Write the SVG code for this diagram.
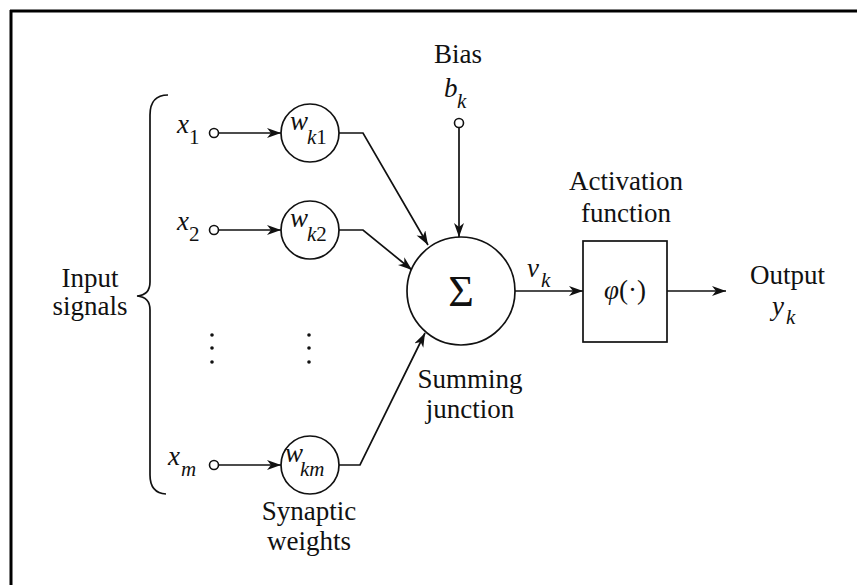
<svg xmlns="http://www.w3.org/2000/svg" width="857" height="585" viewBox="0 0 857 585">
<defs>
<marker id="arr" markerUnits="userSpaceOnUse" markerWidth="16" markerHeight="12" refX="14" refY="5" orient="auto">
<path d="M0,0 L14,5 L0,10 L4,5 z" fill="#111"/>
</marker>
<style>
.t{font-family:"Liberation Serif","Times New Roman",serif;font-size:27px;fill:#111}
.i{font-style:italic}
.s{font-family:"Liberation Serif","Times New Roman",serif;font-size:21px;fill:#111}
.ln{fill:none;stroke:#111;stroke-width:1.7}
.nd{fill:#fff;stroke:#111;stroke-width:1.7}
.pt{fill:#fff;stroke:#111;stroke-width:1.6}
</style>
</defs>
<rect width="857" height="585" fill="#fff"/>
<g id="frame">
<line x1="10" y1="11" x2="857" y2="11" stroke="#000" stroke-width="3"/>
<line x1="11" y1="10" x2="11" y2="585" stroke="#000" stroke-width="3"/>
</g>
<g id="connectors">
<line class="ln" x1="218.5" y1="133" x2="281" y2="133" marker-end="url(#arr)"/>
<line class="ln" x1="218.5" y1="230" x2="281" y2="230" marker-end="url(#arr)"/>
<line class="ln" x1="218.5" y1="465" x2="281" y2="465" marker-end="url(#arr)"/>
<polyline class="ln" points="339,133 363,133 428,245" marker-end="url(#arr)"/>
<polyline class="ln" points="339,230 363,230 412,270" marker-end="url(#arr)"/>
<polyline class="ln" points="339,465 360,465 425,333" marker-end="url(#arr)"/>
<line class="ln" x1="459" y1="127.5" x2="459" y2="237" marker-end="url(#arr)"/>
<line class="ln" x1="515" y1="291" x2="583" y2="291" marker-end="url(#arr)"/>
<line class="ln" x1="667" y1="291" x2="726" y2="291" marker-end="url(#arr)"/>
</g>
<g id="inputs">
<path class="ln" d="M168,95 Q150,95 150,115 L150,282 Q150,295 137,296 Q150,297 150,310 L150,475 Q150,493 166,494" stroke-width="1.8"/>
<text class="t" x="90" y="287" text-anchor="middle">Input</text>
<text class="t" x="90" y="315" text-anchor="middle">signals</text>
</g>
<g id="x1">
<text class="t i" x="177" y="133">x</text><text class="s" x="189" y="144">1</text>
<circle class="pt" cx="214" cy="133" r="4.5"/>
</g>
<g id="x2">
<text class="t i" x="177" y="230">x</text><text class="s" x="189" y="241">2</text>
<circle class="pt" cx="214" cy="230" r="4.5"/>
</g>
<g id="xm">
<text class="t i" x="168" y="465">x</text><text class="s i" x="181" y="476">m</text>
<circle class="pt" cx="214" cy="465" r="4.5"/>
</g>
<g id="dots">
<circle cx="212" cy="335" r="1.8" fill="#111"/><circle cx="212" cy="348" r="1.8" fill="#111"/><circle cx="212" cy="362" r="1.8" fill="#111"/>
<circle cx="309" cy="335" r="1.8" fill="#111"/><circle cx="309" cy="348" r="1.8" fill="#111"/><circle cx="309" cy="362" r="1.8" fill="#111"/>
</g>
<g id="wk1">
<circle class="nd" cx="310" cy="133" r="29"/>
<text class="t i" x="290" y="130">w</text><text class="s" x="307" y="144"><tspan font-style="italic">k</tspan>1</text>
</g>
<g id="wk2">
<circle class="nd" cx="310" cy="230" r="29"/>
<text class="t i" x="290" y="227">w</text><text class="s" x="307" y="241"><tspan font-style="italic">k</tspan>2</text>
</g>
<g id="wkm">
<circle class="nd" cx="310" cy="465" r="29"/>
<text class="t i" x="285" y="462">w</text><text class="s i" x="300" y="476">km</text>
<text class="t" x="309" y="520" text-anchor="middle">Synaptic</text>
<text class="t" x="309" y="550" text-anchor="middle">weights</text>
</g>
<g id="bias">
<text class="t" x="458" y="63" text-anchor="middle">Bias</text>
<text class="t i" x="444" y="97">b</text><text class="s i" x="457" y="108">k</text>
<circle class="pt" cx="459" cy="123" r="4.5"/>
</g>
<g id="sum">
<circle class="nd" cx="461" cy="291" r="54"/>
<text class="t" x="461" y="306" text-anchor="middle" style="font-size:44px">Σ</text>
<text class="t" x="470" y="388" text-anchor="middle">Summing</text>
<text class="t" x="470" y="418" text-anchor="middle">junction</text>
<text class="t i" x="527" y="277">v</text><text class="s i" x="541" y="287">k</text>
</g>
<g id="activation">
<rect class="nd" x="583" y="241" width="84" height="101"/>
<text class="t" x="625" y="299" text-anchor="middle"><tspan font-style="italic">φ</tspan>(·)</text>
<text class="t" x="626" y="190" text-anchor="middle">Activation</text>
<text class="t" x="626" y="222" text-anchor="middle">function</text>
</g>
<g id="output">
<text class="t" x="750" y="284">Output</text>
<text class="t i" x="772" y="315">y</text><text class="s i" x="786" y="324">k</text>
</g>
</svg>
